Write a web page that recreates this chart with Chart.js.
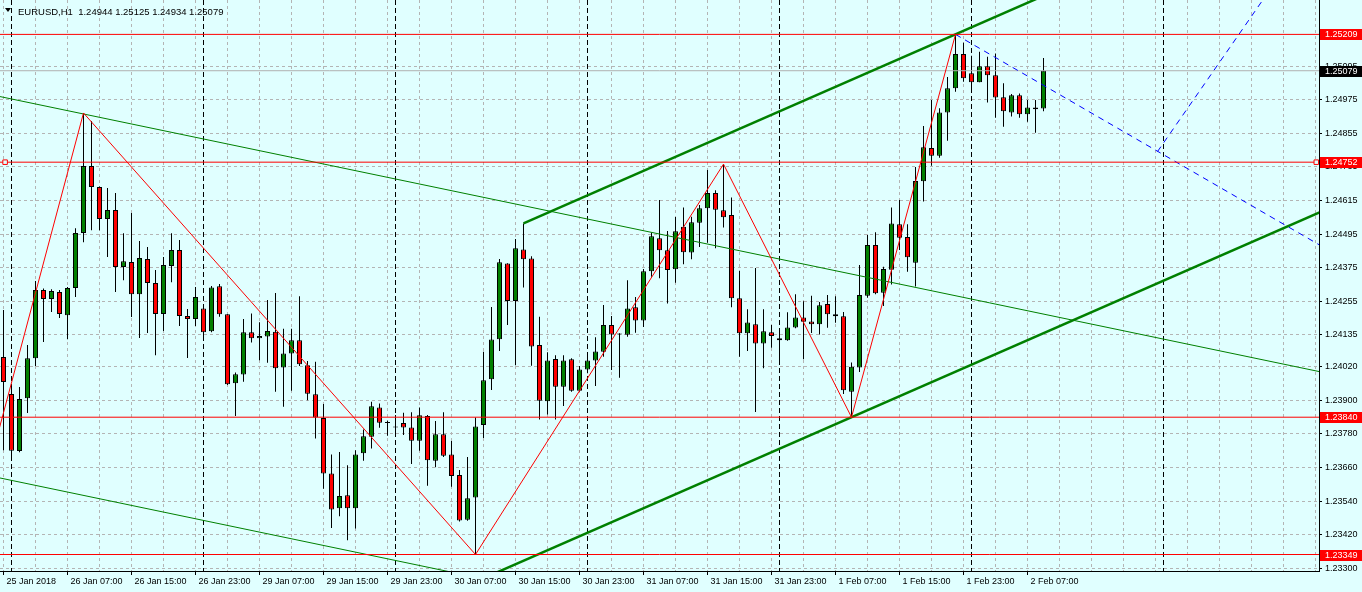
<!DOCTYPE html>
<html>
<head>
<meta charset="utf-8">
<title>EURUSD,H1</title>
<script src="https://cdn.jsdelivr.net/npm/chart.js@4.4.1/dist/chart.umd.min.js"></script>
<style>
    html, body { margin: 0; padding: 0; background: #e0ffff; }
    canvas { display: block; }
</style>
</head>
<body>
<canvas id="chart" width="1362" height="592"></canvas>
<script>
// hourly bars, bar 0 = 25 Jan 2018 23:00
var opens = [
    1.24055, 1.23923, 1.23719, 1.23908, 1.24051, 1.24295, 1.24263, 1.24288, 1.24205, 1.24302,
    1.24499, 1.24738, 1.24663, 1.24549, 1.24581, 1.24377, 1.24395, 1.24280, 1.24406, 1.24320,
    1.24209, 1.24381, 1.24438, 1.24202, 1.24191, 1.24229, 1.24147, 1.24308, 1.24208, 1.23961,
    1.23993, 1.24144, 1.24122, 1.24129, 1.24146, 1.24018, 1.24068, 1.24115, 1.24026, 1.23922,
    1.23837, 1.23639, 1.23514, 1.23561, 1.23514, 1.23711, 1.23770, 1.23875, 1.23823, 1.23803,
    1.23819, 1.23803, 1.23756, 1.23844, 1.23684, 1.23779, 1.23707, 1.23633, 1.23473, 1.23553,
    1.23812, 1.23976, 1.24119, 1.24390, 1.24256, 1.24440, 1.24408, 1.24098, 1.23897, 1.24048,
    1.23949, 1.24047, 1.23935, 1.24011, 1.24043, 1.24074, 1.24170, 1.24137, 1.24135, 1.24233,
    1.24186, 1.24362, 1.24480, 1.24437, 1.24369, 1.24521, 1.24429, 1.24535, 1.24587, 1.24642,
    1.24580, 1.24563, 1.24265, 1.24140, 1.24172, 1.24104, 1.24144, 1.24122, 1.24115, 1.24161,
    1.24197, 1.24182, 1.24172, 1.24245, 1.24208, 1.24201, 1.23931, 1.24018, 1.24274, 1.24456,
    1.24285, 1.24367, 1.24530, 1.24484, 1.24392, 1.24684, 1.24803, 1.24775, 1.24930, 1.25016,
    1.25139, 1.25070, 1.25038, 1.25095, 1.25063, 1.24984, 1.24930, 1.24991, 1.24923, 1.24948,
    1.24944
];
var highs = [
    1.24223, 1.23955, 1.23948, 1.24098, 1.24327, 1.24300, 1.24298, 1.24295, 1.24306, 1.24516,
    1.24928, 1.24899, 1.24665, 1.24660, 1.24642, 1.24498, 1.24570, 1.24470, 1.24449, 1.24366,
    1.24413, 1.24498, 1.24474, 1.24227, 1.24306, 1.24241, 1.24309, 1.24316, 1.24208, 1.24000,
    1.24191, 1.24211, 1.24180, 1.24259, 1.24284, 1.24156, 1.24156, 1.24273, 1.24041, 1.24038,
    1.23887, 1.23707, 1.23716, 1.23668, 1.23722, 1.23796, 1.23895, 1.23889, 1.23827, 1.23848,
    1.23856, 1.23858, 1.23875, 1.23848, 1.23826, 1.23858, 1.23755, 1.23651, 1.23698, 1.23839,
    1.24074, 1.24234, 1.24406, 1.24391, 1.24477, 1.24533, 1.24416, 1.24199, 1.24072, 1.24062,
    1.24062, 1.24051, 1.24023, 1.24056, 1.24126, 1.24241, 1.24202, 1.24140, 1.24330, 1.24270,
    1.24370, 1.24500, 1.24617, 1.24506, 1.24556, 1.24590, 1.24557, 1.24599, 1.24724, 1.24652,
    1.24745, 1.24626, 1.24363, 1.24226, 1.24374, 1.24226, 1.24170, 1.24142, 1.24215, 1.24280,
    1.24255, 1.24274, 1.24252, 1.24277, 1.24273, 1.24216, 1.24036, 1.24384, 1.24492, 1.24501,
    1.24378, 1.24590, 1.24617, 1.24530, 1.24735, 1.24881, 1.24974, 1.24945, 1.25057, 1.25209,
    1.25179, 1.25133, 1.25147, 1.25129, 1.25141, 1.25034, 1.24996, 1.24998, 1.24974, 1.24974,
    1.25125
];
var lows = [
    1.23722, 1.23687, 1.23715, 1.23855, 1.24023, 1.24109, 1.24216, 1.24195, 1.24119, 1.24270,
    1.24466, 1.24509, 1.24509, 1.24413, 1.24288, 1.24330, 1.24198, 1.24123, 1.24141, 1.24062,
    1.24148, 1.24323, 1.24166, 1.24052, 1.24166, 1.24117, 1.24144, 1.24199, 1.23955, 1.23844,
    1.23967, 1.24107, 1.24044, 1.24035, 1.23931, 1.23877, 1.23935, 1.24023, 1.23901, 1.23764,
    1.23584, 1.23444, 1.23486, 1.23400, 1.23442, 1.23684, 1.23728, 1.23802, 1.23774, 1.23772,
    1.23776, 1.23673, 1.23720, 1.23595, 1.23661, 1.23698, 1.23591, 1.23467, 1.23470, 1.23349,
    1.23766, 1.23937, 1.24077, 1.24170, 1.24026, 1.24304, 1.24024, 1.23832, 1.23850, 1.23832,
    1.23880, 1.23931, 1.23931, 1.23997, 1.23952, 1.24056, 1.24009, 1.23981, 1.24128, 1.24142,
    1.24163, 1.24342, 1.24337, 1.24247, 1.24321, 1.24387, 1.24405, 1.24449, 1.24464, 1.24444,
    1.24518, 1.24233, 1.24056, 1.24077, 1.23859, 1.24015, 1.24088, 1.24029, 1.24113, 1.24158,
    1.24047, 1.24141, 1.24136, 1.24160, 1.24178, 1.23923, 1.23840, 1.24002, 1.24267, 1.24280,
    1.24238, 1.24315, 1.24438, 1.24360, 1.24307, 1.24611, 1.24739, 1.24768, 1.24829, 1.25004,
    1.25040, 1.25016, 1.25038, 1.24965, 1.24911, 1.24879, 1.24915, 1.24911, 1.24897, 1.24857,
    1.24934
];
var closes = [
    1.23966, 1.23720, 1.23905, 1.24051, 1.24295, 1.24263, 1.24291, 1.24209, 1.24302, 1.24499,
    1.24738, 1.24663, 1.24549, 1.24581, 1.24377, 1.24398, 1.24280, 1.24409, 1.24320, 1.24209,
    1.24384, 1.24438, 1.24202, 1.24191, 1.24270, 1.24144, 1.24304, 1.24208, 1.23958, 1.23994,
    1.24144, 1.24122, 1.24130, 1.24148, 1.24015, 1.24068, 1.24115, 1.24029, 1.23924, 1.23839,
    1.23639, 1.23510, 1.23558, 1.23514, 1.23707, 1.23772, 1.23879, 1.23820, 1.23819, 1.23807,
    1.23803, 1.23756, 1.23847, 1.23686, 1.23779, 1.23702, 1.23630, 1.23471, 1.23550, 1.23807,
    1.23972, 1.24118, 1.24394, 1.24256, 1.24444, 1.24405, 1.24093, 1.23899, 1.24043, 1.23949,
    1.24043, 1.23935, 1.24011, 1.24043, 1.24075, 1.24170, 1.24136, 1.24136, 1.24229, 1.24186,
    1.24362, 1.24487, 1.24437, 1.24366, 1.24505, 1.24430, 1.24537, 1.24587, 1.24642, 1.24582,
    1.24555, 1.24265, 1.24140, 1.24179, 1.24104, 1.24147, 1.24130, 1.24115, 1.24161, 1.24197,
    1.24181, 1.24172, 1.24240, 1.24208, 1.24201, 1.23936, 1.24020, 1.24277, 1.24456, 1.24283,
    1.24370, 1.24533, 1.24482, 1.24412, 1.24685, 1.24805, 1.24775, 1.24930, 1.25016, 1.25139,
    1.25052, 1.25038, 1.25095, 1.25063, 1.24983, 1.24934, 1.24991, 1.24923, 1.24948, 1.24941,
    1.25079
];

// time labels, one every 8 bars from bar 0
var timeLabels = [
    '25 Jan 2018', '26 Jan 07:00', '26 Jan 15:00', '26 Jan 23:00', '29 Jan 07:00',
    '29 Jan 15:00', '29 Jan 23:00', '30 Jan 07:00', '30 Jan 15:00', '30 Jan 23:00',
    '31 Jan 07:00', '31 Jan 15:00', '31 Jan 23:00', '1 Feb 07:00', '1 Feb 15:00',
    '1 Feb 23:00', '2 Feb 07:00'
];
// first bar of each day
var daySeparators = [1, 25, 49, 73, 97, 121, 145];
// price scale grid values
var priceTicks = [
    1.25095, 1.24975, 1.24855, 1.24735, 1.24615, 1.24495, 1.24375, 1.24255,
    1.24135, 1.24020, 1.23900, 1.23780, 1.23660, 1.23540, 1.23420, 1.23300
];

// horizontal levels
var redLevels = [1.25209, 1.24752, 1.23840, 1.23349];
var bidPrice = 1.25079;
var titleText = 'EURUSD,H1  1.24944 1.25125 1.24934 1.25079';

// chart objects as [bar, price] points
var zigzag = [[-1, 1.23749], [10, 1.24928], [59, 1.23349], [90, 1.24745], [106, 1.23840], [119, 1.25209]];
var thinUpper = [[-1, 1.24990], [165, 1.24000]];
var thinLower = [[-1, 1.23626], [60, 1.23262]];
var channelUpper = [[65, 1.24533], [170, 1.25848]];
var channelLower = [[60, 1.23264], [170, 1.24641]];
var blueDown = [[119, 1.25209], [170, 1.24365]];
var blueUp = [[144.25, 1.24790], [162, 1.25521]];
var levelMarks = [[0.2, 1.24752], [164.1, 1.24752]];

(function () {
    'use strict';

    var BG = '#e0ffff';
    var GREEN = '#008000';
    var RED = '#ff0000';
    var GRID = '#b4b4b4';
    var FONT = 'Liberation Sans';

    function pts(list) {
        return list.map(function (p) { return { x: p[0], y: p[1] }; });
    }

    function lineSet(list, color, width, dash, order) {
        return {
            type: 'line',
            data: pts(list),
            borderColor: color,
            borderWidth: width,
            borderDash: dash || [],
            pointRadius: 0,
            pointHoverRadius: 0,
            fill: false,
            tension: 0,
            order: order
        };
    }

    // candles: wick and body as floating bars
    var wicks = [], bodies = [], bodyColors = [];
    for (var i = 0; i < opens.length; i++) {
        wicks.push({ x: i, y: [lows[i], highs[i]] });
        bodies.push({ x: i, y: [opens[i], closes[i]] });
        bodyColors.push(closes[i] >= opens[i] ? GREEN : RED);
    }

    // x ticks: every 4 bars for the grid, plus the day separators
    var xTicks = [];
    for (var t = 0; t <= 164; t += 4) xTicks.push(t);
    daySeparators.forEach(function (d) { if (xTicks.indexOf(d) < 0) xTicks.push(d); });
    xTicks.sort(function (a, b) { return a - b; });

    function isSeparator(v) { return daySeparators.indexOf(v) >= 0; }
    function labelAt(v) {
        if (v % 8 !== 0) return '';
        var k = v / 8;
        return k < timeLabels.length ? timeLabels[k] : '';
    }

    var datasets = [
        { type: 'bar', data: wicks, backgroundColor: '#000000', borderWidth: 0, barThickness: 1,
          grouped: false, inflateAmount: 0, order: 11 },
        { type: 'bar', data: bodies, backgroundColor: bodyColors, borderColor: '#000000', borderWidth: 1,
          borderSkipped: false, barThickness: 5, grouped: false, inflateAmount: 0, minBarLength: 1, order: 10 },
        lineSet([[-1, bidPrice], [170, bidPrice]], '#b0b0b0', 1, null, 6),
        lineSet(thinUpper, GREEN, 1, null, 5),
        lineSet(thinLower, GREEN, 1, null, 5),
        lineSet(channelUpper, GREEN, 2.5, null, 4),
        lineSet(channelLower, GREEN, 2.5, null, 4),
        lineSet(blueDown, '#0000ff', 1, [6, 5], 3),
        lineSet(blueUp, '#0000ff', 1, [6, 5], 3)
    ];
    redLevels.forEach(function (lvl) {
        datasets.push(lineSet([[-1, lvl], [170, lvl]], RED, 1, null, 2));
    });
    datasets.push(lineSet(zigzag, RED, 1, null, 1));
    datasets.push({
        type: 'scatter', data: pts(levelMarks), pointStyle: 'rect', pointRadius: 3.2,
        borderColor: RED, backgroundColor: BG, borderWidth: 1, order: 0
    });

    var background = {
        id: 'background',
        beforeDraw: function (chart) {
            var ctx = chart.ctx;
            ctx.save();
            ctx.fillStyle = BG;
            ctx.fillRect(0, 0, chart.width, chart.height);
            ctx.restore();
        }
    };

    var overlays = {
        id: 'overlays',
        afterDraw: function (chart) {
            var ctx = chart.ctx;
            var y = chart.scales.y;
            var left = chart.chartArea.right + 1;
            ctx.save();
            ctx.font = '9px "' + FONT + '"';
            ctx.textBaseline = 'middle';
            ctx.textAlign = 'left';
            function box(value, fill) {
                var py = Math.round(y.getPixelForValue(value));
                ctx.fillStyle = fill;
                ctx.fillRect(left, py - 5, chart.width - left, 11);
                ctx.fillStyle = '#ffffff';
                ctx.fillText(value.toFixed(5), left + 5, py + 0.5);
            }
            redLevels.forEach(function (lvl) { box(lvl, RED); });
            box(bidPrice, '#000000');

            // symbol title
            ctx.fillStyle = '#000000';
            ctx.beginPath();
            ctx.moveTo(5, 8);
            ctx.lineTo(11, 8);
            ctx.lineTo(8, 12);
            ctx.closePath();
            ctx.fill();
            ctx.font = '9.5px "' + FONT + '"';
            ctx.textBaseline = 'alphabetic';
            ctx.fillText(titleText, 18, 14.5);
            ctx.restore();
        }
    };

    var chart = new Chart(document.getElementById('chart').getContext('2d'), {
        type: 'bar',
        data: { datasets: datasets },
        plugins: [background, overlays],
        options: {
            responsive: false,
            animation: false,
            devicePixelRatio: 1,
            layout: { padding: 0, autoPadding: false },
            plugins: { legend: { display: false }, tooltip: { enabled: false } },
            scales: {
                x: {
                    type: 'linear',
                    min: -0.4375,
                    max: 164.4375,
                    offset: false,
                    afterBuildTicks: function (axis) {
                        axis.ticks = xTicks.map(function (v) { return { value: v }; });
                    },
                    afterFit: function (axis) {
                        axis.height = 21;
                        axis.paddingLeft = 0;
                        axis.paddingRight = 0;
                    },
                    grid: {
                        offset: false,
                        color: function (c) {
                            return c.tick && isSeparator(c.tick.value) ? '#000000' : GRID;
                        },
                        lineWidth: 1,
                        tickLength: 4,
                        tickColor: function (c) {
                            return c.tick && labelAt(c.tick.value) ? '#000000' : 'rgba(0,0,0,0)';
                        },
                        tickBorderDash: []
                    },
                    border: {
                        display: true, color: '#000000', width: 1,
                        dash: function (c) {
                            return c.tick && isSeparator(c.tick.value) ? [5, 3] : [3, 3];
                        }
                    },
                    ticks: {
                        autoSkip: false,
                        maxRotation: 0,
                        minRotation: 0,
                        align: 'start',
                        labelOffset: 3,
                        padding: 1,
                        color: '#000000',
                        font: { family: FONT, size: 9 },
                        callback: function (value) { return labelAt(value); }
                    }
                },
                y: {
                    type: 'linear',
                    position: 'right',
                    min: 1.23290,
                    max: 1.25332,
                    beginAtZero: false,
                    afterBuildTicks: function (axis) {
                        axis.ticks = priceTicks.map(function (v) { return { value: v }; });
                    },
                    afterFit: function (axis) {
                        axis.width = 43;
                        axis.paddingTop = 0;
                        axis.paddingBottom = 0;
                    },
                    grid: {
                        color: GRID,
                        lineWidth: 1,
                        tickLength: 3,
                        tickColor: '#000000',
                        tickBorderDash: []
                    },
                    border: { display: true, color: '#000000', width: 1, dash: [3, 3] },
                    ticks: {
                        padding: 3,
                        color: '#000000',
                        font: { family: FONT, size: 9 },
                        callback: function (value) { return Number(value).toFixed(5); }
                    }
                }
            }
        }
    });
})();
</script>
</body>
</html>
